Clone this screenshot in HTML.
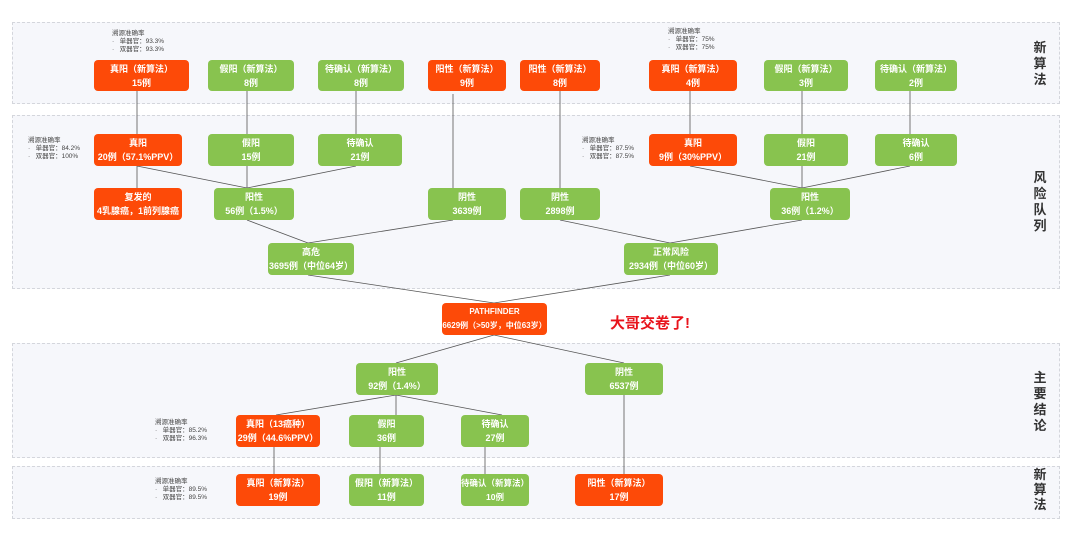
<!DOCTYPE html>
<html><head><meta charset="utf-8"><style>
body{margin:0;width:1080px;height:549px;background:#fff;position:relative;overflow:hidden;font-family:"Liberation Sans","Noto Sans CJK SC",sans-serif}
.p{position:absolute;border:1px dashed #d4d6dc;background:#f6f7fb;box-sizing:border-box}
.n{position:absolute;border-radius:4px;color:#fff;font-weight:bold;font-size:9px;text-align:center;line-height:14px;display:flex;flex-direction:column;justify-content:center;align-items:center;box-sizing:border-box;white-space:nowrap}
.r{background:#fd4a08}.g{background:#88c34f}
.s{position:absolute;font-size:13px;font-weight:bold;color:#333;width:16px;line-height:18px;text-align:center}
.a{position:absolute;font-size:6.5px;line-height:8px;color:#444;white-space:nowrap}
svg{position:absolute;left:0;top:0}
</style></head><body>
<div class="p" style="left:12px;top:22px;width:1048px;height:82px"></div>
<div class="p" style="left:12px;top:115px;width:1048px;height:174px"></div>
<div class="p" style="left:12px;top:343px;width:1048px;height:115px"></div>
<div class="p" style="left:12px;top:466px;width:1048px;height:53px"></div>
<svg width="1080" height="549" stroke="#555" stroke-width="0.8" fill="none">
<line x1="137" y1="91" x2="137" y2="188"/><line x1="247" y1="91" x2="247" y2="134"/><line x1="356" y1="91" x2="356" y2="134"/>
<line x1="453" y1="94" x2="453" y2="188"/><line x1="560" y1="91" x2="560" y2="188"/>
<line x1="690" y1="91" x2="690" y2="134"/><line x1="802" y1="91" x2="802" y2="134"/><line x1="910" y1="91" x2="910" y2="134"/>
<line x1="137" y1="166" x2="247" y2="188"/><line x1="247" y1="166" x2="247" y2="188"/><line x1="356" y1="166" x2="247" y2="188"/>
<line x1="690" y1="166" x2="802" y2="188"/><line x1="802" y1="166" x2="802" y2="188"/><line x1="910" y1="166" x2="802" y2="188"/>
<line x1="247" y1="220" x2="308" y2="243"/><line x1="453" y1="220" x2="308" y2="243"/>
<line x1="560" y1="220" x2="670" y2="243"/><line x1="802" y1="220" x2="670" y2="243"/>
<line x1="308" y1="275" x2="494" y2="303"/><line x1="670" y1="275" x2="494" y2="303"/>
<line x1="494" y1="335" x2="396" y2="363"/><line x1="494" y1="335" x2="624" y2="363"/>
<line x1="396" y1="395" x2="276" y2="415"/><line x1="396" y1="395" x2="396" y2="415"/><line x1="396" y1="395" x2="502" y2="415"/>
<line x1="274" y1="447" x2="274" y2="474"/><line x1="380" y1="447" x2="380" y2="474"/><line x1="485" y1="447" x2="485" y2="474"/><line x1="624" y1="395" x2="624" y2="474"/>
</svg>
<div class="n r" style="left:94px;top:60px;width:95px;height:31px">真阳（新算法）<span>15例</span></div>
<div class="n g" style="left:208px;top:60px;width:86px;height:31px">假阳（新算法）<span>8例</span></div>
<div class="n g" style="left:318px;top:60px;width:86px;height:31px">待确认（新算法）<span>8例</span></div>
<div class="n r" style="left:428px;top:60px;width:78px;height:31px">阳性（新算法）<span>9例</span></div>
<div class="n r" style="left:520px;top:60px;width:80px;height:31px">阳性（新算法）<span>8例</span></div>
<div class="n r" style="left:649px;top:60px;width:88px;height:31px">真阳（新算法）<span>4例</span></div>
<div class="n g" style="left:764px;top:60px;width:84px;height:31px">假阳（新算法）<span>3例</span></div>
<div class="n g" style="left:875px;top:60px;width:82px;height:31px">待确认（新算法）<span>2例</span></div>
<div class="n r" style="left:94px;top:134px;width:88px;height:32px">真阳<span>20例（57.1%PPV）</span></div>
<div class="n g" style="left:208px;top:134px;width:86px;height:32px">假阳<span>15例</span></div>
<div class="n g" style="left:318px;top:134px;width:84px;height:32px">待确认<span>21例</span></div>
<div class="n r" style="left:649px;top:134px;width:88px;height:32px">真阳<span>9例（30%PPV）</span></div>
<div class="n g" style="left:764px;top:134px;width:84px;height:32px">假阳<span>21例</span></div>
<div class="n g" style="left:875px;top:134px;width:82px;height:32px">待确认<span>6例</span></div>
<div class="n r" style="left:94px;top:188px;width:88px;height:32px">复发的<span>4乳腺癌，1前列腺癌</span></div>
<div class="n g" style="left:214px;top:188px;width:80px;height:32px">阳性<span>56例（1.5%）</span></div>
<div class="n g" style="left:428px;top:188px;width:78px;height:32px">阴性<span>3639例</span></div>
<div class="n g" style="left:520px;top:188px;width:80px;height:32px">阴性<span>2898例</span></div>
<div class="n g" style="left:770px;top:188px;width:80px;height:32px">阳性<span>36例（1.2%）</span></div>
<div class="n g" style="left:268px;top:243px;width:86px;height:32px">高危<span>3695例（中位64岁）</span></div>
<div class="n g" style="left:624px;top:243px;width:94px;height:32px">正常风险<span>2934例（中位60岁）</span></div>
<div class="n r" style="left:442px;top:303px;width:105px;height:32px;font-size:8px">PATHFINDER<span>6629例（&gt;50岁，中位63岁）</span></div>
<div style="position:absolute;left:610px;top:312px;font-size:15px;font-weight:bold;color:#e8141c">大哥交卷了!</div>
<div class="n g" style="left:356px;top:363px;width:82px;height:32px">阳性<span>92例（1.4%）</span></div>
<div class="n g" style="left:585px;top:363px;width:78px;height:32px">阴性<span>6537例</span></div>
<div class="n r" style="left:236px;top:415px;width:84px;height:32px">真阳（13癌种）<span>29例（44.6%PPV）</span></div>
<div class="n g" style="left:349px;top:415px;width:75px;height:32px">假阳<span>36例</span></div>
<div class="n g" style="left:461px;top:415px;width:68px;height:32px">待确认<span>27例</span></div>
<div class="n r" style="left:236px;top:474px;width:84px;height:32px">真阳（新算法）<span>19例</span></div>
<div class="n g" style="left:349px;top:474px;width:75px;height:32px">假阳（新算法）<span>11例</span></div>
<div class="n g" style="left:461px;top:474px;width:68px;height:32px;font-size:8.5px">待确认（新算法）<span>10例</span></div>
<div class="n r" style="left:575px;top:474px;width:88px;height:32px">阳性（新算法）<span>17例</span></div>
<div class="a" style="left:112px;top:30px">溯源准确率<br>·&nbsp;&nbsp;&nbsp;单器官：93.3%<br>·&nbsp;&nbsp;&nbsp;双器官：93.3%</div>
<div class="a" style="left:668px;top:28px">溯源准确率<br>·&nbsp;&nbsp;&nbsp;单器官：75%<br>·&nbsp;&nbsp;&nbsp;双器官：75%</div>
<div class="a" style="left:28px;top:137px">溯源准确率<br>·&nbsp;&nbsp;&nbsp;单器官：84.2%<br>·&nbsp;&nbsp;&nbsp;双器官：100%</div>
<div class="a" style="left:582px;top:137px">溯源准确率<br>·&nbsp;&nbsp;&nbsp;单器官：87.5%<br>·&nbsp;&nbsp;&nbsp;双器官：87.5%</div>
<div class="a" style="left:155px;top:419px">溯源准确率<br>·&nbsp;&nbsp;&nbsp;单器官：85.2%<br>·&nbsp;&nbsp;&nbsp;双器官：96.3%</div>
<div class="a" style="left:155px;top:478px">溯源准确率<br>·&nbsp;&nbsp;&nbsp;单器官：89.5%<br>·&nbsp;&nbsp;&nbsp;双器官：89.5%</div>
<div class="s" style="left:1032px;top:40px;line-height:16px">新算法</div>
<div class="s" style="left:1032px;top:170px;line-height:16px">风险队列</div>
<div class="s" style="left:1032px;top:370px;line-height:16px">主要结论</div>
<div class="s" style="left:1032px;top:467px;line-height:15px">新算法</div>
</body></html>
